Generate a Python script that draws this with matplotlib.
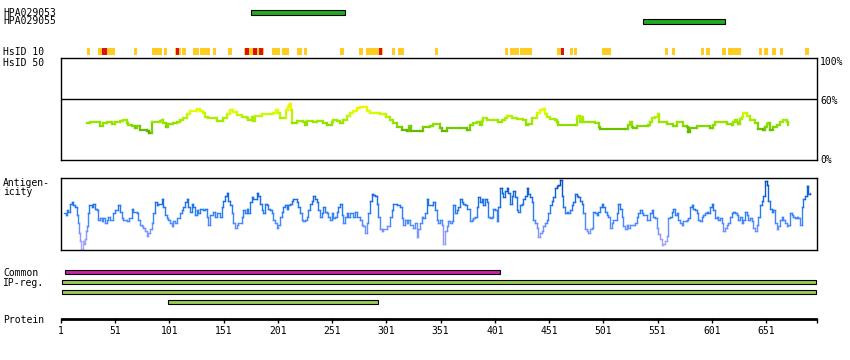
import numpy as np
import matplotlib.pyplot as plt
from matplotlib.collections import LineCollection
from matplotlib.colors import LinearSegmentedColormap

plt.rcParams['font.family'] = ['DejaVu Sans Mono']

W, H = 850, 360
seq_len = 698
x0 = 61            # pixel of residue 1
px_per_res = 1.0846

# antibody epitopes
epitope_names = ['HPA029053', 'HPA029055']
epitope_start = [176, 538]
epitope_end = [263, 613]

# HsID 10 strip (yellow segments, red segments on top)
hsid_start = [25, 35, 42, 47, 68, 85, 96, 106, 113, 123, 129, 141, 155, 170, 196, 198, 205, 208,
              219, 225, 258, 276, 282, 306, 312, 314, 346, 410, 415, 418, 424, 458, 470, 474,
              500, 503, 558, 564, 591, 596, 610, 616, 621, 625, 645, 649, 657, 664, 687]
hsid_end = [27, 42, 46, 50, 70, 93, 98, 111, 115, 127, 137, 143, 158, 187, 197, 202, 207, 210,
            222, 227, 261, 278, 297, 308, 313, 316, 348, 412, 417, 422, 434, 464, 472, 476,
            502, 507, 560, 566, 593, 598, 613, 620, 624, 627, 646, 652, 659, 666, 690]
hsid_red_start = [39, 107, 171, 178, 184, 294, 462]
hsid_red_end = [42, 109, 173, 181, 186, 296, 464]

# identity to other species (%)
ident_pos = [25.3, 27.7, 33.9, 37.0, 40.0, 43.1, 46.2, 47.7, 50.8, 55.4, 58.5, 61.6, 63.1, 66.2,
             69.2, 71.4, 73.8, 80.0, 82.4, 84.6, 92.3, 93.8, 95.3, 97.8, 99.9, 104.5, 107.7,
             110.7, 113.8, 116.9, 119.9, 126.1, 129.2, 132.2, 133.8, 136.8, 143.0, 144.6, 147.6,
             150.7, 153.8, 156.8, 159.9, 163.0, 167.6, 172.2, 173.7, 176.8, 177.7, 179.9, 186.0,
             193.7, 196.8, 199.3, 201.4, 203.0, 206.0, 208.5, 210.0, 211.5, 212.2, 212.8, 214.0,
             218.3, 224.4, 226.0, 227.5, 233.7, 236.8, 242.9, 246.0, 250.6, 252.1, 255.2, 258.2,
             261.3, 264.4, 267.4, 270.5, 273.6, 276.7, 279.7, 282.8, 285.9, 292.1, 295.1, 298.2,
             300.7, 304.3, 307.4, 310.5, 315.1, 319.7, 322.1, 323.4, 332.0, 335.0, 341.2, 344.3,
             346.7, 350.4, 351.9, 356.6, 368.8, 375.0, 378.1, 381.2, 384.3, 387.3, 388.9, 390.4,
             393.5, 399.6, 404.2, 407.3, 410.4, 411.9, 416.5, 421.1, 427.3, 429.7, 431.9, 435.0,
             439.6, 442.7, 445.7, 447.3, 448.8, 451.9, 456.5, 458.6, 459.5, 474.9, 476.4, 477.9,
             479.5, 481.0, 482.6, 485.7, 493.4, 497.3, 498.0, 521.0, 524.1, 525.6, 527.2, 528.7,
             531.8, 542.5, 544.1, 545.6, 548.7, 551.7, 552.6, 559.4, 565.6, 568.7, 573.3, 574.8,
             577.9, 579.4, 581.0, 587.1, 596.3, 599.4, 602.4, 604.0, 611.6, 614.7, 619.3, 620.9,
             622.4, 624.0, 625.5, 627.0, 628.6, 630.1, 633.2, 636.3, 640.9, 643.9, 648.5, 650.1,
             651.6, 653.2, 654.7, 657.8, 660.9, 664.0, 667.0, 670.1, 671.6]
ident_val = [36.0, 37.0, 37.0, 33.3, 36.0, 37.3, 37.0, 35.3, 37.0, 38.6, 39.2, 36.0, 34.3, 33.3,
             31.0, 33.3, 29.4, 28.8, 26.8, 37.0, 37.9, 39.2, 36.0, 32.0, 35.3, 36.0, 37.0,
             39.2, 40.8, 45.1, 48.4, 49.7, 48.4, 45.8, 41.8, 40.8, 40.8, 38.6, 38.6,
             40.8, 45.1, 49.0, 47.4, 44.1, 41.8, 40.8, 39.2, 41.8, 38.6, 43.1, 45.1,
             45.1, 46.4, 49.0, 45.8, 40.8, 40.8, 49.0, 52.3, 53.9, 54.6, 49.0, 36.0,
             38.6, 37.6, 34.3, 38.6, 37.0, 38.6, 36.0, 34.3, 37.0, 39.2, 38.6, 36.0,
             39.2, 43.1, 45.8, 48.4, 50.7, 52.3, 51.6, 48.4, 46.4, 45.8, 45.1, 45.1,
             42.5, 39.2, 36.0, 32.7, 29.4, 28.8, 33.3, 28.8, 28.8, 32.0, 33.7, 35.0,
             35.3, 31.0, 28.8, 31.0, 31.0, 29.4, 34.3, 36.0, 37.0, 34.3, 38.6, 40.8,
             39.2, 39.2, 37.0, 39.2, 40.8, 43.1, 40.8, 39.9, 39.2, 34.3, 35.3, 40.8,
             45.8, 49.0, 49.7, 45.1, 42.5, 39.9, 39.2, 37.0, 34.3, 34.3, 42.5, 43.1,
             37.6, 42.5, 37.6, 37.0, 36.0, 32.7, 30.0, 30.0, 34.3, 37.0, 32.7, 31.0,
             33.3, 34.3, 37.6, 40.8, 41.8, 45.1, 36.9, 35.3, 33.3, 36.9, 37.0, 33.3,
             32.0, 27.7, 31.0, 33.3, 33.3, 31.0, 34.3, 37.0, 37.0, 35.0, 34.3, 37.6,
             39.2, 37.6, 35.0, 39.9, 42.5, 45.8, 43.1, 39.2, 36.0, 30.0, 29.4, 32.0,
             35.3, 36.0, 29.4, 32.7, 34.3, 36.9, 39.2, 37.6, 34.3]

# antigenicity profile (relative score 0-100)
antigen_pos = [3.8, 5.3, 6.2, 7.8, 9.3, 10.8, 12.4, 13.9, 15.4, 17.0, 17.9, 18.5, 19.4, 21.0,
               22.2, 23.1, 24.0, 25.3, 26.2, 27.1, 29.3, 30.8, 32.3, 33.9, 35.4, 37.0, 38.5,
               40.0, 41.6, 43.1, 44.6, 46.2, 49.3, 50.8, 53.9, 55.4, 56.9, 58.5, 61.5, 64.0,
               66.2, 67.7, 70.8, 72.3, 73.8, 75.4, 76.9, 78.4, 80.0, 81.5, 83.1, 84.6, 86.1,
               87.7, 89.2, 90.7, 93.8, 95.4, 96.9, 98.4, 100.0, 101.5, 103.0, 104.6, 106.1,
               107.6, 110.7, 112.3, 113.8, 115.3, 116.9, 118.4, 119.9, 121.5, 123.0, 124.5,
               126.1, 127.6, 129.2, 132.2, 133.8, 135.3, 136.8, 138.4, 141.5, 143.0, 144.5,
               147.6, 149.1, 150.7, 152.2, 153.7, 155.3, 156.8, 158.4, 159.9, 161.4, 163.0,
               164.5, 167.6, 169.1, 170.6, 172.2, 173.7, 175.3, 176.8, 178.3, 181.4, 182.9,
               184.5, 186.0, 187.5, 189.1, 190.6, 192.2, 193.7, 195.2, 196.8, 198.3, 199.8,
               201.4, 202.9, 204.5, 206.0, 207.5, 209.1, 210.6, 212.1, 213.7, 215.2, 218.3,
               219.8, 221.4, 222.9, 224.4, 226.0, 227.5, 229.0, 230.6, 232.1, 233.7, 235.2,
               236.7, 238.3, 239.8, 241.3, 242.9, 244.4, 245.9, 247.5, 249.0, 250.6, 252.1,
               253.6, 255.2, 256.7, 258.2, 259.8, 261.3, 262.8, 264.4, 265.9, 267.5, 270.5,
               272.1, 273.6, 276.7, 278.2, 279.8, 281.3, 282.8, 284.4, 285.9, 287.4, 289.0,
               290.5, 292.0, 293.6, 295.1, 296.7, 298.2, 301.3, 304.3, 305.9, 307.4, 310.5,
               313.6, 315.1, 316.6, 318.2, 319.7, 321.2, 322.8, 325.9, 327.4, 328.9, 330.5,
               332.0, 333.5, 335.1, 336.6, 338.1, 339.7, 342.8, 344.3, 345.8, 347.4, 348.9,
               350.4, 352.0, 353.5, 355.1, 356.6, 358.1, 359.7, 361.2, 362.7, 364.3, 365.8,
               367.3, 368.9, 370.4, 372.0, 373.5, 375.0, 378.1, 379.6, 381.2, 382.7, 384.2,
               385.8, 387.3, 388.9, 390.4, 391.9, 393.5, 395.0, 396.5, 398.1, 399.6, 401.2,
               402.7, 404.2, 405.8, 407.3, 408.8, 410.4, 411.9, 413.4, 415.0, 416.5, 418.1,
               419.6, 421.1, 422.7, 424.2, 425.7, 427.3, 428.8, 430.3, 431.9, 433.4, 435.0,
               436.5, 438.0, 439.6, 441.1, 442.6, 444.2, 445.7, 447.3, 448.8, 450.3, 451.9,
               453.4, 454.9, 456.5, 458.0, 459.5, 461.1, 462.6, 464.2, 465.7, 467.2, 468.8,
               470.3, 471.8, 473.4, 474.9, 476.4, 478.0, 479.5, 481.1, 482.6, 484.1, 485.7,
               487.2, 488.7, 490.3, 491.8, 493.3, 494.9, 496.4, 498.0, 499.5, 501.0, 502.6,
               504.1, 505.6, 507.2, 508.7, 510.3, 513.3, 514.9, 516.4, 517.9, 519.5, 521.0,
               522.5, 524.1, 525.6, 528.7, 530.2, 531.8, 533.3, 534.8, 536.4, 537.9, 541.0,
               544.1, 545.6, 547.1, 548.7, 550.2, 551.7, 553.3, 554.8, 556.4, 557.9, 559.4,
               561.0, 562.5, 564.0, 565.6, 567.1, 568.6, 570.2, 571.7, 573.3, 574.8, 577.9,
               579.4, 580.9, 582.5, 584.0, 585.5, 587.1, 588.6, 590.2, 591.7, 593.2, 594.8,
               596.3, 597.8, 599.4, 600.9, 602.4, 604.0, 605.5, 607.1, 608.6, 610.1, 611.7,
               613.2, 614.7, 616.3, 617.8, 619.4, 620.9, 622.4, 624.0, 625.5, 627.0, 628.6,
               630.1, 631.6, 633.2, 634.7, 636.3, 637.8, 639.3, 640.9, 642.4, 643.9, 645.5,
               647.0, 648.5, 650.1, 651.6, 653.2, 654.7, 656.2, 657.8, 659.3, 660.8, 662.4,
               663.9, 665.5, 667.0, 668.5, 670.1, 671.6, 673.1, 674.7, 676.2, 677.7, 679.3,
               680.8, 682.4, 683.9, 685.4, 687.0, 688.5, 690.0, 691.6]
antigen_val = [51.9, 48.6, 55.6, 53.2, 64.8, 67.1, 62.5, 60.2, 48.6, 37.0, 23.1, 11.6, 0.0, 11.6,
               6.9, 13.9, 25.5, 32.4, 50.9, 62.5, 60.2, 64.8, 57.9, 55.6, 41.7, 44.0, 39.4,
               44.0, 37.0, 41.7, 46.3, 41.7, 50.9, 55.6, 62.5, 53.2, 44.0, 41.7, 39.4, 44.0,
               57.9, 53.2, 50.9, 41.7, 34.7, 32.4, 30.1, 25.5, 18.5, 23.1, 27.8, 37.0, 50.9,
               67.1, 62.5, 64.8, 71.8, 60.2, 48.6, 44.0, 41.7, 37.0, 32.4, 39.4, 37.0,
               44.0, 50.9, 55.6, 60.2, 67.1, 71.8, 60.2, 53.2, 64.8, 60.2, 48.6,
               55.6, 50.9, 57.9, 55.6, 57.9, 46.3, 34.7, 48.6, 53.2, 46.3, 50.9,
               46.3, 60.2, 69.4, 76.4, 81.0, 69.4, 62.5, 50.9, 37.0, 30.1, 34.7,
               37.0, 46.3, 55.6, 50.9, 57.9, 50.9, 67.1, 74.1, 71.8, 81.0, 76.4,
               64.8, 55.6, 50.9, 64.8, 62.5, 57.9, 55.6, 50.9, 41.7, 37.0, 30.1,
               34.7, 46.3, 53.2, 60.2, 62.5, 57.9, 62.5, 64.8, 69.4, 71.8, 67.1,
               60.2, 50.9, 41.7, 39.4, 41.7, 46.3, 55.6, 64.8, 69.4, 76.4, 71.8,
               67.1, 55.6, 46.3, 50.9, 60.2, 53.2, 50.9, 46.3, 41.7, 50.9, 44.0,
               46.3, 53.2, 60.2, 64.8, 48.6, 37.0, 46.3, 50.9, 46.3, 50.9, 46.3,
               53.2, 46.3, 41.7, 34.7, 32.4, 23.1, 37.0, 50.9, 69.4, 78.7, 77.8,
               76.4, 64.8, 46.3, 27.8, 25.5, 27.8, 32.4, 46.3, 55.6, 64.8, 62.5,
               60.2, 44.0, 34.7, 41.7, 37.0, 41.7, 34.7, 30.1, 37.0, 16.2, 27.8,
               37.0, 46.3, 44.0, 50.9, 71.8, 62.5, 62.5, 67.1, 55.6, 41.7, 37.0,
               41.7, 34.7, 6.9, 25.5, 32.4, 39.4, 37.0, 39.4, 62.5, 50.9, 55.6,
               60.2, 71.8, 67.1, 64.8, 62.5, 57.9, 39.4, 41.7, 44.0, 46.3, 60.2,
               74.1, 67.1, 71.8, 62.5, 71.8, 67.1, 46.3, 44.0, 46.3, 57.9, 55.6,
               39.4, 60.2, 88.0, 81.0, 74.1, 83.3, 88.0, 81.0, 64.8, 76.4, 83.3,
               74.1, 55.6, 53.2, 62.5, 64.8, 71.8, 76.4, 88.0, 78.7, 74.1, 67.1,
               41.7, 37.0, 30.1, 16.2, 23.1, 25.5, 32.4, 37.0, 41.7, 50.9, 62.5,
               69.4, 74.1, 88.0, 90.3, 92.6, 99.5, 76.4, 60.2, 50.9, 53.2, 50.9,
               55.6, 62.5, 67.1, 78.7, 76.4, 74.1, 69.4, 64.8, 50.9, 27.8, 25.5,
               23.1, 27.8, 30.1, 53.2, 50.9, 48.6, 53.2, 60.2, 64.8, 60.2, 53.2,
               48.6, 46.3, 30.1, 37.0, 41.7, 50.9, 64.8, 57.9, 46.3, 32.4, 27.8,
               34.7, 30.1, 34.7, 34.7, 37.0, 46.3, 50.9, 55.6, 50.9, 48.6, 41.7,
               50.9, 55.6, 46.3, 44.0, 30.1, 20.8, 13.9, 4.6, 6.9, 11.6, 18.5,
               44.0, 46.3, 53.2, 57.9, 48.6, 50.9, 41.7, 37.0, 34.7, 39.4, 41.7,
               44.0, 60.2, 62.5, 57.9, 55.6, 50.9, 41.7, 39.4, 46.3, 48.6, 50.9,
               53.2, 50.9, 60.2, 64.8, 55.6, 44.0, 46.3, 41.7, 44.0, 37.0, 25.5,
               30.1, 34.7, 37.0, 46.3, 50.9, 53.2, 50.9, 48.6, 41.7, 46.3, 37.0,
               41.7, 53.2, 48.6, 41.7, 44.0, 39.4, 30.1, 25.5, 34.7, 46.3, 62.5,
               69.4, 76.4, 97.2, 92.6, 69.4, 57.9, 53.2, 55.6, 37.0, 27.8, 32.4,
               41.7, 46.3, 41.7, 37.0, 32.4, 34.7, 50.9, 48.6, 46.3, 44.0, 46.3,
               44.0, 34.7, 60.2, 71.8, 76.4, 90.3, 78.7, 81.0]

# bottom tracks
common_start = [5]
common_end = [406]
ipreg_start = [2, 2, 100]
ipreg_end = [697, 697, 293]
tick_pos = [1, 51, 101, 151, 201, 251, 301, 351, 401, 451, 501, 551, 601, 651]


def fx(p):
    return p / W


def fy(p):
    return 1 - p / H


def colored_steps(ax, xs, ys, cmap, vmin, vmax, lw):
    # draw the profile as a stepped line (pixel look), coloured by value
    xs = np.asarray(xs)
    ys = np.asarray(ys)
    sx = np.repeat(xs, 2)[1:]
    sy = np.repeat(ys, 2)[:-1]
    pts = np.column_stack([sx, sy]).reshape(-1, 1, 2)
    segs = np.concatenate([pts[:-1], pts[1:]], axis=1)
    mid = (sy[:-1] + sy[1:]) / 2
    lc = LineCollection(segs, cmap=cmap, linewidths=lw, capstyle='projecting')
    lc.set_array(mid)
    lc.set_clim(vmin, vmax)
    ax.add_collection(lc)


def panel(fig, top, bottom):
    ax = fig.add_axes([fx(x0), fy(bottom), fx(817) - fx(x0), (bottom - top) / H])
    ax.set_xlim(1, seq_len)
    ax.set_ylim(0, 100)
    ax.set_xticks([])
    ax.set_yticks([])
    for s in ax.spines.values():
        s.set_linewidth(1.0)
        s.set_color('black')
    return ax


fig = plt.figure(figsize=(W / 100, H / 100), dpi=100)

# track axes spanning the whole figure (x in residues, y in pixel rows)
ax = fig.add_axes([0, 0, 1, 1])
ax.set_xlim(1 - x0 / px_per_res, 1 + (W - x0) / px_per_res)
ax.set_ylim(H, 0)
ax.axis('off')
ax.patch.set_visible(False)

fs = 7
txt = dict(fontsize=fs, color='black', ha='left', va='center')

# epitopes
for i, name in enumerate(epitope_names):
    yy = 12.5 + 9 * i
    ax.barh(yy, epitope_end[i] - epitope_start[i], left=epitope_start[i], height=4.6,
            color='#22AA22', edgecolor='black', linewidth=0.8)
    fig.text(fx(3), fy(yy), name, **txt)

# HsID strip
ax.barh(51.5, np.array(hsid_end) - np.array(hsid_start) + 1, left=hsid_start, height=6.5,
        color='#FFCC22', linewidth=0)
ax.barh(51.5, np.array(hsid_red_end) - np.array(hsid_red_start) + 1, left=hsid_red_start,
        height=6.5, color='#DD1111', linewidth=0)
fig.text(fx(3), fy(52), 'HsID 10', **txt)
fig.text(fx(3), fy(62.5), 'HsID 50', **txt)

# identity panel
ax_id = panel(fig, 58, 160)
ax_id.axhline(60, color='black', lw=1.0)
id_cmap = LinearSegmentedColormap.from_list(
    'ident', ['#55AA00', '#88DD00', '#AAEE00', '#DDFF00', '#FFEE00'])
colored_steps(ax_id, ident_pos, ident_val, id_cmap, 27, 54, 1.6)
fig.text(fx(820), fy(62), '100%', **txt)
fig.text(fx(820), fy(100.5), '60%', **txt)
fig.text(fx(820), fy(160), '0%', **txt)

# antigenicity panel
ax_ag = panel(fig, 178, 250)
ax_ag.set_ylim(-2, 102)
ag_cmap = LinearSegmentedColormap.from_list(
    'antigen', ['#BBAAFF', '#8899FF', '#4488FF', '#2277EE', '#1166DD', '#0044AA'])
colored_steps(ax_ag, antigen_pos, antigen_val, ag_cmap, 0, 100, 1.0)
fig.text(fx(3), fy(183), 'Antigen-', **txt)
fig.text(fx(3), fy(192), 'icity', **txt)

# common / IP-reg
ax.barh(272.3, common_end[0] - common_start[0], left=common_start[0], height=4,
        color='#CC22AA', edgecolor='black', linewidth=0.8)
fig.text(fx(3), fy(272.5), 'Common', **txt)
for i in range(len(ipreg_start)):
    ax.barh(282.3 + 10 * i, ipreg_end[i] - ipreg_start[i], left=ipreg_start[i], height=4,
            color='#99CC55', edgecolor='black', linewidth=0.8)
fig.text(fx(3), fy(283), 'IP-reg.', **txt)

# protein ruler
ax.plot([1, seq_len], [319.3, 319.3], color='black', lw=2.0, solid_capstyle='butt')
ax.vlines(tick_pos + [seq_len], 318, 323, color='black', lw=1.0)
for t in tick_pos:
    ax.text(t, 331.5, str(t), fontsize=fs, ha='center', va='center')
fig.text(fx(3), fy(320), 'Protein', **txt)

plt.savefig('out.png', dpi=100)
